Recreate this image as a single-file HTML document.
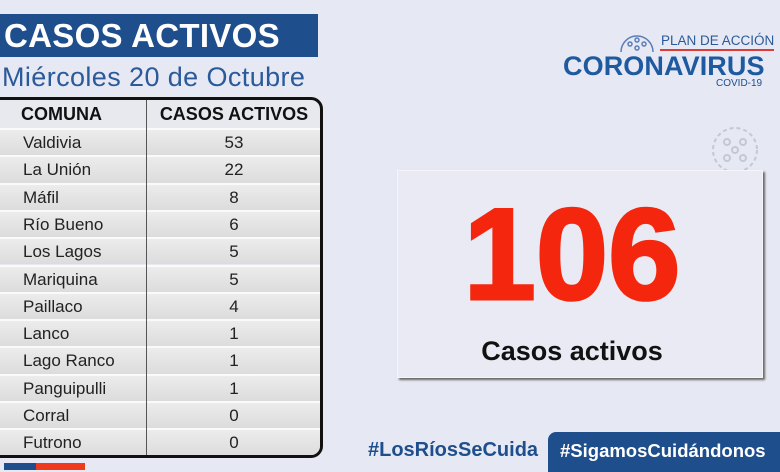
<!DOCTYPE html>
<html><head><meta charset="utf-8"><style>
*{margin:0;padding:0;box-sizing:border-box}
body{width:780px;height:470px;overflow:hidden;background:#e6e8f3;font-family:"Liberation Sans",sans-serif;position:relative}
.abs{position:absolute;white-space:nowrap}
.title{left:0;top:14px;width:318px;height:43px;background:#1e4e8c;color:#fff;font-weight:bold;font-size:33px;line-height:43px;padding-left:4px;letter-spacing:0.3px}
.sub{left:2px;top:60px;color:#2a5a9a;font-size:27px;line-height:34px;letter-spacing:0.4px}
.tbl{left:-4px;top:97px;width:327px;height:361px;border:3px solid #111;border-radius:0 12px 12px 0;background:#e8e9ef;overflow:hidden}
.row{position:absolute;left:0;width:100%;height:27.3px;background:linear-gradient(#ececec,#dcdcdc);border-top:2px solid #fafafa;font-size:17px;color:#222;line-height:25px}
.row span{position:absolute}
.c1{left:24px}.c2{left:150px;width:170px;text-align:center}
.hdr{position:absolute;top:0;left:0;width:100%;height:28px;font-weight:bold;font-size:18px;line-height:28px;color:#111}
.div{position:absolute;left:147px;top:0;width:1px;height:100%;background:#555}
.box{left:397px;top:170px;width:366px;height:208px;background:#e9eaf4;border:1px solid #f6f6fa;box-shadow:2px 2px 2px #666}
</style></head><body>
<div class="abs title">CASOS ACTIVOS</div>
<div class="abs sub">Miércoles 20 de Octubre</div>
<div class="abs tbl">
<div class="hdr"><span style="position:absolute;left:22px">COMUNA</span><span style="position:absolute;left:150px;width:170px;text-align:center">CASOS ACTIVOS</span></div>
<div class="row" style="top:28px"><span class="c1">Valdivia</span><span class="c2">53</span></div>
<div class="row" style="top:55.3px"><span class="c1">La Unión</span><span class="c2">22</span></div>
<div class="row" style="top:82.6px"><span class="c1">Máfil</span><span class="c2">8</span></div>
<div class="row" style="top:109.9px"><span class="c1">Río Bueno</span><span class="c2">6</span></div>
<div class="row" style="top:137.2px"><span class="c1">Los Lagos</span><span class="c2">5</span></div>
<div class="row" style="top:164.5px"><span class="c1">Mariquina</span><span class="c2">5</span></div>
<div class="row" style="top:191.8px"><span class="c1">Paillaco</span><span class="c2">4</span></div>
<div class="row" style="top:219.1px"><span class="c1">Lanco</span><span class="c2">1</span></div>
<div class="row" style="top:246.4px"><span class="c1">Lago Ranco</span><span class="c2">1</span></div>
<div class="row" style="top:273.7px"><span class="c1">Panguipulli</span><span class="c2">1</span></div>
<div class="row" style="top:301px"><span class="c1">Corral</span><span class="c2">0</span></div>
<div class="row" style="top:328.3px"><span class="c1">Futrono</span><span class="c2">0</span></div>
<div class="div"></div>
</div>
<div class="abs" style="left:4px;top:463px;width:32px;height:7px;background:#1e4e8c"></div>
<div class="abs" style="left:36px;top:463px;width:49px;height:7px;background:#ef3a1f"></div>

<svg class="abs" style="left:617px;top:26px" width="40" height="28" viewBox="0 0 40 28"><g fill="none" stroke="#5a7fb5" stroke-width="1.5"><path d="M4 26 A16 16 0 0 1 36 26"/><circle cx="13" cy="18" r="2"/><circle cx="20" cy="14" r="2"/><circle cx="27" cy="18" r="2"/><circle cx="20" cy="22" r="2"/></g></svg>
<div class="abs" style="left:661px;top:33px;font-size:13.5px;color:#2a5a9a;line-height:15px">PLAN DE ACCIÓN</div>
<div class="abs" style="left:660px;top:49px;width:114px;height:2px;background:#e03b3b"></div>
<div class="abs" style="left:563px;top:52px;font-size:27px;font-weight:bold;color:#1e5aa0;line-height:28px;letter-spacing:0.1px">CORONAVIRUS</div>
<div class="abs" style="left:716px;top:78px;font-size:10px;color:#1e4e8c">COVID-19</div>
<svg class="abs" style="left:705px;top:120px" width="60" height="50" viewBox="0 0 60 50"><g fill="none" stroke="#c4c8d4" stroke-width="2"><circle cx="30" cy="30" r="22" stroke-dasharray="4 3"/><circle cx="22" cy="22" r="3"/><circle cx="38" cy="22" r="3"/><circle cx="22" cy="38" r="3"/><circle cx="38" cy="38" r="3"/><circle cx="30" cy="30" r="3"/></g></svg>

<div class="abs box"></div>
<div class="abs" style="left:389px;top:184px;width:366px;text-align:center;font-size:130px;font-weight:bold;color:#f5260e;line-height:140px;letter-spacing:0px;-webkit-text-stroke:3px #f5260e">106</div>
<div class="abs" style="left:397px;top:334px;width:350px;text-align:center;font-size:27px;font-weight:bold;color:#111;line-height:34px">Casos activos</div>

<div class="abs" style="left:368px;top:437px;font-size:20px;font-weight:bold;color:#1e4e8c;line-height:26px">#LosRíosSeCuida</div>
<div class="abs" style="left:548px;top:432px;width:240px;height:40px;background:#1e4e8c;border-radius:8px 0 0 0"></div>
<div class="abs" style="left:560px;top:438px;font-size:18.5px;font-weight:bold;color:#fff;line-height:26px">#SigamosCuidándonos</div>
</body></html>
